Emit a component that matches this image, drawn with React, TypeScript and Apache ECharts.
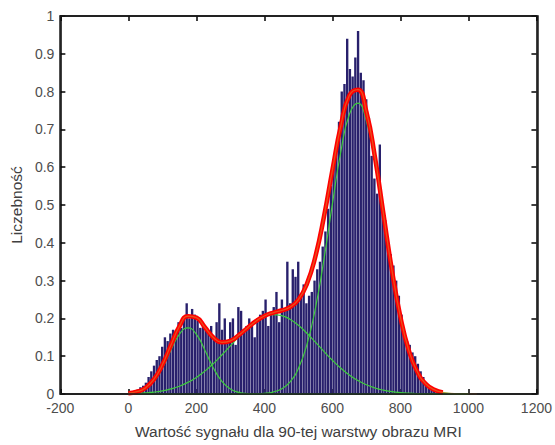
import React, { useEffect, useRef } from "react";
import * as echarts from "echarts";

// Histogram: bins start at BIN_START, each BIN_WIDTH wide
const BIN_START = 0;
const BIN_WIDTH = 8;
const binHeights = [
  0.005, 0.008, 0.01, 0.012, 0.018, 0.022, 0.03, 0.045, 0.06, 0.075,
  0.09, 0.1, 0.125, 0.15, 0.14, 0.16, 0.17, 0.165, 0.19, 0.175,
  0.2, 0.24, 0.2, 0.225, 0.21, 0.195, 0.175, 0.185, 0.17, 0.16,
  0.18, 0.15, 0.19, 0.24, 0.17, 0.2, 0.14, 0.19, 0.2, 0.13,
  0.23, 0.22, 0.17, 0.18, 0.2, 0.18, 0.15, 0.2, 0.21, 0.22,
  0.25, 0.18, 0.21, 0.23, 0.27, 0.19, 0.25, 0.22, 0.35, 0.24,
  0.33, 0.31, 0.35, 0.26, 0.29, 0.24, 0.26, 0.27, 0.3, 0.33,
  0.35, 0.39, 0.43, 0.49, 0.55, 0.6, 0.65, 0.72, 0.8, 0.82,
  0.94, 0.86, 0.84, 0.89, 0.96, 0.85, 0.83, 0.78, 0.73, 0.63,
  0.57, 0.53, 0.66, 0.5, 0.46, 0.4, 0.37, 0.34, 0.3, 0.26,
  0.21, 0.16, 0.14, 0.13, 0.11, 0.1, 0.08, 0.06, 0.045, 0.03,
  0.02, 0.012, 0.008, 0.005,
];

// Fitted curves, sampled at curveX
const curveX = [
  0, 25, 50, 75, 100, 125, 150, 175, 200, 225, 250, 275, 300, 325, 350, 375,
  400, 425, 450, 475, 500, 525, 550, 575, 600, 625, 650, 675, 700, 725, 750,
  775, 800, 825, 850, 875, 900, 925, 950, 975, 1000, 1025,
];
const green1 = [
  0.0011, 0.0043, 0.0132, 0.0335, 0.069, 0.1158, 0.158, 0.175, 0.158, 0.1158,
  0.069, 0.0335, 0.0132, 0.0043, 0.0011, 0.0002, 0, 0, 0, 0, 0, 0, 0, 0, 0,
  0, 0, 0, 0, 0, 0, 0, 0, 0, 0, 0, 0, 0, 0, 0, 0, 0,
];
const green2 = [
  0.0009, 0.0016, 0.0029, 0.005, 0.0084, 0.0134, 0.0206, 0.0307, 0.0439,
  0.0606, 0.0805, 0.1032, 0.1274, 0.1516, 0.1738, 0.192, 0.2045, 0.2098,
  0.2075, 0.1978, 0.1817, 0.1608, 0.1372, 0.1127, 0.0893, 0.0682, 0.0502,
  0.0356, 0.0243, 0.016, 0.0101, 0.0062, 0.0037, 0.0021, 0.0011, 0.0006,
  0.0003, 0.0001, 0, 0, 0, 0,
];
const green3 = [
  0, 0, 0, 0, 0, 0, 0, 0, 0, 0, 0, 0, 0, 0, 0, 0.0005, 0.0018, 0.0051,
  0.0134, 0.0317, 0.0677, 0.1304, 0.2266, 0.3554, 0.5029, 0.6422, 0.74,
  0.7695, 0.722, 0.6112, 0.467, 0.322, 0.2003, 0.1124, 0.057, 0.026, 0.0107,
  0.004, 0.0013, 0.0004, 0.0001, 0,
];
const fitSum = [
  0.002, 0.006, 0.016, 0.0385, 0.0774, 0.129, 0.1786, 0.2057, 0.2019, 0.1764,
  0.1495, 0.1367, 0.1406, 0.1559, 0.1749, 0.1927, 0.2063, 0.2149, 0.2209,
  0.2295, 0.2494, 0.2912, 0.3638, 0.4681, 0.5922, 0.7104, 0.7902, 0.8051,
  0.7463, 0.6272, 0.4771, 0.3282, 0.204, 0.1145, 0.0581, 0.0266, 0.011,
  0.0041, 0.0013, 0.0004, 0.0001, 0,
];

const xTicks = { min: -200, max: 1200, interval: 200 };
const yTicks = { min: 0, max: 1, interval: 0.1 };

const FONT = "'Liberation Sans', Arial, Helvetica, sans-serif";

const GRID = { left: 60, right: 17, top: 16, bottom: 51 };
const W = 555;
const H = 445;

function pairs(xs: number[], ys: number[], maxX: number) {
  const out: number[][] = [];
  for (let i = 0; i < xs.length; i++) if (xs[i] <= maxX) out.push([xs[i], ys[i]]);
  return out;
}

export default function App() {
  const ref = useRef<HTMLDivElement>(null);
  useEffect(() => {
    if (!ref.current) return;
    const chart = echarts.init(ref.current, null, { renderer: "svg" });
    const barData = binHeights.map((h, i) => [BIN_START + i * BIN_WIDTH, h]);
    const tick = { show: true, inside: true, length: 5, lineStyle: { color: "#000000", width: 1.5 } };
    const line = { show: true, onZero: false, lineStyle: { color: "#000000", width: 1.5 } };
    chart.setOption({
      animation: false,
      backgroundColor: "#ffffff",
      grid: { ...GRID, containLabel: false },
      graphic: [
        {
          type: "rect",
          z: 100,
          silent: true,
          shape: {
            x: GRID.left,
            y: GRID.top,
            width: W - GRID.left - GRID.right,
            height: H - GRID.top - GRID.bottom,
          },
          style: { fill: "rgba(0,0,0,0)", stroke: "#1a1a1a", lineWidth: 1.5 },
        },
      ],
      xAxis: [
        {
          type: "value",
          ...xTicks,
          position: "bottom",
          axisLine: line,
          axisTick: tick,
          splitLine: { show: false },
          axisLabel: {
            color: "#4d4d4d",
            fontSize: 14,
            fontFamily: FONT,
            margin: 7,
            formatter: (v: number) => String(v),
          },
          name: "Wartość sygnału dla 90-tej warstwy obrazu MRI",
          nameLocation: "middle",
          nameGap: 29,
          nameTextStyle: { color: "#404040", fontSize: 15.5, fontFamily: FONT },
        },
        {
          type: "value",
          ...xTicks,
          position: "top",
          axisLine: line,
          axisTick: tick,
          splitLine: { show: false },
          axisLabel: { show: false },
        },
      ],
      yAxis: [
        {
          type: "value",
          ...yTicks,
          position: "left",
          axisLine: line,
          axisTick: tick,
          splitLine: { show: false },
          axisLabel: {
            color: "#4d4d4d",
            fontSize: 14,
            fontFamily: FONT,
            margin: 6,
            formatter: (v: number) => String(Math.round(v * 10) / 10),
          },
          name: "Liczebność",
          nameLocation: "middle",
          nameGap: 36,
          nameTextStyle: { color: "#404040", fontSize: 15.5, fontFamily: FONT },
        },
        {
          type: "value",
          ...yTicks,
          position: "right",
          axisLine: line,
          axisTick: tick,
          splitLine: { show: false },
          axisLabel: { show: false },
        },
      ],
      series: [
        {
          type: "custom",
          xAxisIndex: 0,
          yAxisIndex: 0,
          data: barData,
          renderItem: (params: any, api: any) => {
            const x0 = api.value(0);
            const h = api.value(1);
            const p0 = api.coord([x0, h]);
            const p1 = api.coord([x0 + BIN_WIDTH, 0]);
            return {
              type: "rect",
              shape: { x: p0[0], y: p0[1], width: Math.max(p1[0] - p0[0] - 0.35, 0.5), height: p1[1] - p0[1] },
              style: { fill: "#28206c" },
            };
          },
        },
        {
          type: "line",
          data: pairs(curveX, green1, 1000),
          smooth: true,
          showSymbol: false,
          lineStyle: { color: "#3ccc3c", width: 1.2 },
        },
        {
          type: "line",
          data: pairs(curveX, green2, 1000),
          smooth: true,
          showSymbol: false,
          lineStyle: { color: "#3ccc3c", width: 1.2 },
        },
        {
          type: "line",
          data: pairs(curveX, green3, 1000),
          smooth: true,
          showSymbol: false,
          lineStyle: { color: "#3ccc3c", width: 1.2 },
        },
        {
          type: "line",
          data: pairs(curveX, fitSum, 925),
          smooth: true,
          showSymbol: false,
          lineStyle: { color: "#ff0000", width: 4.5 },
        },
        {
          type: "line",
          data: pairs(curveX, fitSum, 1025),
          smooth: true,
          showSymbol: false,
          lineStyle: { color: "#d9822b", width: 1.3, opacity: 0.6 },
        },
      ],
    });
    return () => chart.dispose();
  }, []);
  return (
    <div
      ref={ref}
      style={{ position: "fixed", left: 0, top: 0, width: W, height: H }}
    />
  );
}
